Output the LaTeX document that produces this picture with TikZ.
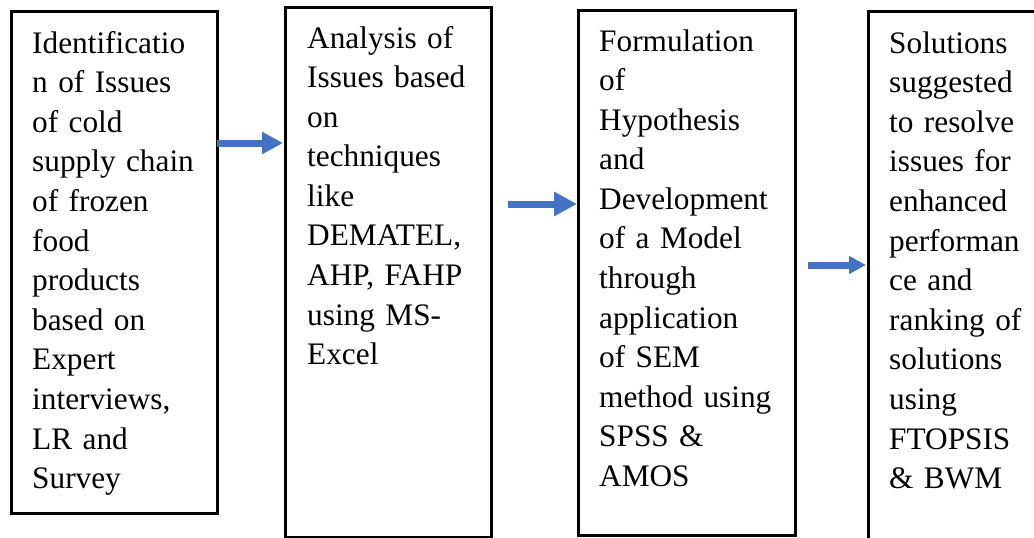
\documentclass[tikz,border=0pt]{standalone}
\usepackage{fontspec}
\setmainfont{Liberation Serif}
\usetikzlibrary{positioning}
\usetikzlibrary{arrows.meta}
\definecolor{flowblue}{HTML}{4472C4}

\begin{document}
\begin{tikzpicture}[x=1pt,y=-1pt,
 box/.style={draw,line width=3pt,outer sep=0pt,inner sep=0pt,anchor=north west},
 txt/.style={anchor=base west,inner sep=0pt,text width=240pt,align=left,
  font=\fontsize{31.3}{39.6}\selectfont},
 flow/.style={flowblue,line width=7pt,-{Triangle[length=#1,width=#1]}}]
 \clip (0,0) rectangle (1034,538);
 \node[box,minimum width=206,minimum height=502](box1) at (11,11) {};
 \node[box,minimum width=206,minimum height=530](box2) at (285,7) {};
 \node[box,minimum width=217,minimum height=525](box3) at (578,10) {};
 \node[box,minimum width=190,minimum height=545](box4) at (868,11) {};
 \node[txt](t1) at (32,53) {Identificatio\\n of Issues\\of cold\\supply chain\\of frozen\\food\\products\\based on\\Expert\\interviews,\\LR and\\Survey};
 \node[txt](t2) at (307,48) {Analysis of\\Issues based\\on\\techniques\\like\\DEMATEL,\\AHP, FAHP\\using MS-\\Excel};
 \node[txt](t3) at (599,51) {Formulation\\of\\Hypothesis\\and\\Development\\of a Model\\through\\application\\of SEM\\method using\\SPSS \&\\AMOS};
 \node[txt](t4) at (889,53) {Solutions\\suggested\\to resolve\\issues for\\enhanced\\performan\\ce and\\ranking of\\solutions\\using\\FTOPSIS\\\& BWM};
 \coordinate (s2) at (508,204);
 \coordinate (s3) at (808,265);
 \draw[flow=21pt] (box1.east |- 0,143) -- ([xshift=-2pt]box2.west |- 0,143);
 \draw[flow=23pt] (s2) -- ([xshift=-1pt]box3.west |- s2);
 \draw[flow=17pt] (s3) -- ([xshift=-2pt]box4.west |- s3);
\end{tikzpicture}
\end{document}
